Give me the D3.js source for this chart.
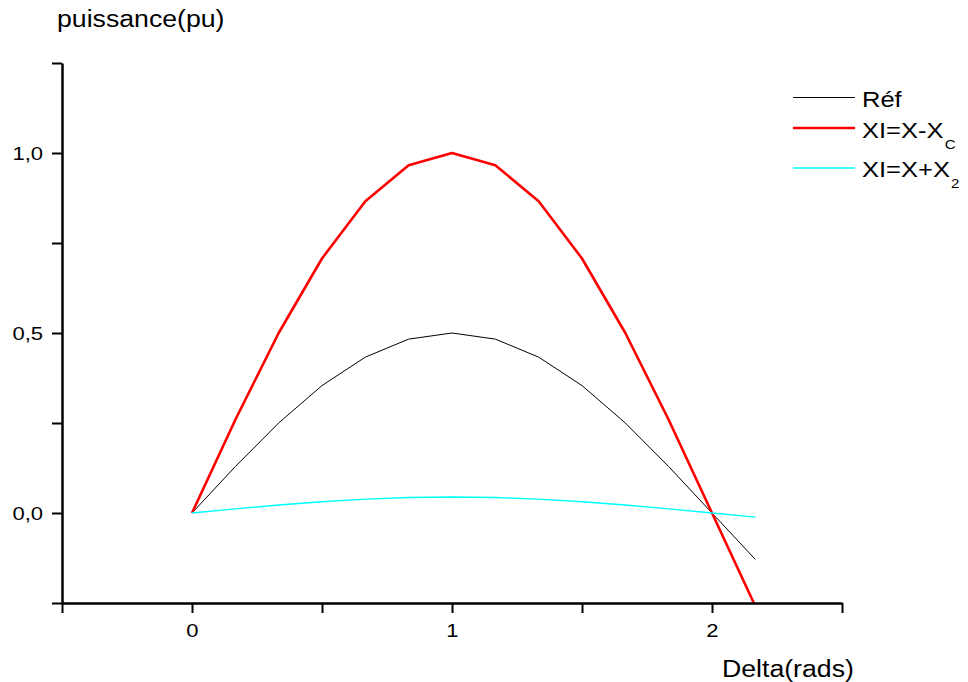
<!DOCTYPE html>
<html>
<head>
<meta charset="utf-8">
<script src="https://cdn.jsdelivr.net/npm/d3@7"></script>
<style>
  html, body { margin: 0; padding: 0; background: #fff; }
  svg { display: block; font-family: "Liberation Sans", Arial, sans-serif; }
</style>
</head>
<body>
<svg id="chart" width="968" height="682"></svg>
<script>
// Load angle delta (rad) and power (pu) for the three line reactance cases
const delta = [0, 0.1667, 0.3333, 0.5, 0.6667, 0.8333, 1, 1.1667, 1.3333, 1.5, 1.6667, 1.8333, 2, 2.1667];
const pRef  = [0, 0.129, 0.25, 0.354, 0.433, 0.483, 0.5, 0.483, 0.433, 0.354, 0.25, 0.129, 0, -0.129];
const pComp = [0, 0.259, 0.5, 0.707, 0.866, 0.966, 1, 0.966, 0.866, 0.707, 0.5, 0.259, 0, -0.259];
const pSer  = [0, 0.0115, 0.0222, 0.0314, 0.0385, 0.0429, 0.0444, 0.0429, 0.0385, 0.0314, 0.0222, 0.0115, 0, -0.0115];

const xTicks = [-0.5, 0, 0.5, 1, 1.5, 2, 2.5];
const xLabels = [0, 1, 2];
const yTicks = [-0.25, 0, 0.25, 0.5, 0.75, 1, 1.25];
const yLabels = [0, 0.5, 1];

const seriesNames = ["Réf", "XI=X-X", "XI=X+X"];
const seriesSubs = ["", "C", "2"];
const seriesColors = ["#000000", "#ff0000", "#00ffff"];
const seriesWidths = [1, 2.6, 1.4];
const seriesValues = [pRef, pComp, pSer];

// text is drawn slightly widened horizontally
const SX = 1.16;

const svg = d3.select("#chart");
const x = d3.scaleLinear().domain([-0.5, 2.5]).range([62, 842]);
const y = d3.scaleLinear().domain([-0.25, 1.25]).range([603, 63]);

svg.append("defs").append("clipPath").attr("id", "plot")
  .append("rect").attr("x", x(-0.5)).attr("y", y(1.25))
  .attr("width", x(2.5) - x(-0.5)).attr("height", y(-0.25) - y(1.25));

// Curves
const line = d3.line().x(d => x(d[0])).y(d => y(d[1]));
const g = svg.append("g").attr("clip-path", "url(#plot)");
seriesValues.forEach((vals, i) => {
  g.append("path")
    .datum(delta.map((d, k) => [d, vals[k]]))
    .attr("d", line)
    .attr("fill", "none")
    .attr("stroke", seriesColors[i])
    .attr("stroke-width", seriesWidths[i])
    .attr("stroke-linejoin", "round");
});

// Axes
const fmtY = d => d3.format(".1f")(d).replace(".", ",");
const xAxis = d3.axisBottom(x).tickValues(xTicks).tickSizeInner(10).tickSizeOuter(0)
  .tickFormat(d => xLabels.includes(d) ? d3.format("d")(d) : "");
const yAxis = d3.axisLeft(y).tickValues(yTicks).tickSizeInner(10).tickSizeOuter(0)
  .tickFormat(d => yLabels.includes(d) ? fmtY(d) : "");

const gx = svg.append("g").attr("transform", `translate(0,${y(-0.25)})`).call(xAxis);
const gy = svg.append("g").attr("transform", `translate(${x(-0.5)},0)`).call(yAxis);
[gx, gy].forEach(a => {
  a.selectAll(".domain").attr("stroke", "#000").attr("stroke-width", 2.5);
  a.selectAll(".tick line").attr("stroke", "#000").attr("stroke-width", 2);
  a.selectAll(".tick text").attr("fill", "#000").style("font-size", "19px")
    .style("font-family", "'Liberation Sans', Arial, sans-serif")
    .attr("transform", `scale(${SX},1)`);
});
gx.selectAll(".tick text").attr("y", 34).attr("dy", null);
gy.selectAll(".tick text").attr("x", -19 / SX);

function label(px, py, size, str) {
  return svg.append("text")
    .attr("transform", `translate(${px},${py}) scale(${SX},1)`)
    .style("font-size", size + "px")
    .text(str);
}

// Axis titles
label(57, 27, 23, "puissance(pu)");
label(722, 677, 23, "Delta(rads)");

// Legend
const legendLineY = [97.5, 128, 168];
const legendBase = [106.5, 137.5, 176.5];
seriesNames.forEach((name, i) => {
  svg.append("line")
    .attr("x1", 793).attr("x2", 855)
    .attr("y1", legendLineY[i]).attr("y2", legendLineY[i])
    .attr("stroke", seriesColors[i]).attr("stroke-width", seriesWidths[i]);
  const t = label(862, legendBase[i], 22, null);
  t.append("tspan").text(name);
  if (seriesSubs[i]) {
    t.append("tspan").attr("dy", 11).attr("dx", 1).style("font-size", "13px").text(seriesSubs[i]);
  }
});
</script>
</body>
</html>
